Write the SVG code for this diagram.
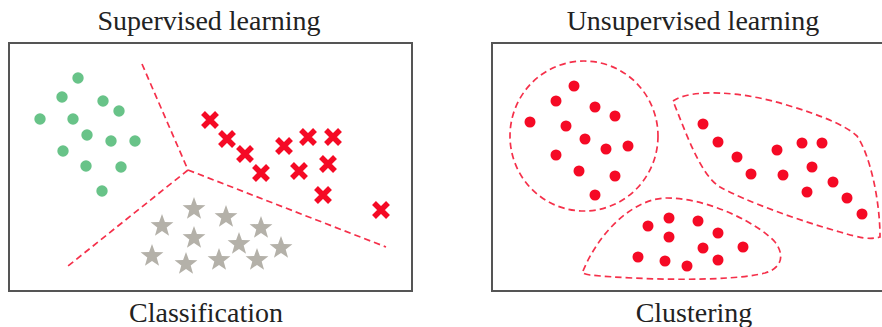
<svg xmlns="http://www.w3.org/2000/svg" xmlns:xlink="http://www.w3.org/1999/xlink" width="882" height="327" viewBox="0 0 882 327">
<defs>
<style>
.frame{fill:#ffffff;stroke:#555555;stroke-width:2}
.title{font-family:"Liberation Serif","Times New Roman",serif;font-size:28px;fill:#222222;text-anchor:middle}
.bound{fill:none;stroke:#f5304a;stroke-width:1.7;stroke-dasharray:6.5 4}
.g{fill:#68c388}
.r{fill:#f50a25}
.star{fill:#b4b1a9}
.x{stroke:#f50a25;stroke-width:5.5;fill:none}
</style>
<path id="star" class="star" d="M0,-12 L2.9,-4 L11.4,-3.7 L4.7,1.5 L7.05,9.7 L0,4.9 L-7.05,9.7 L-4.7,1.5 L-11.4,-3.7 L-2.9,-4 Z"/>
<path id="cross" class="x" d="M-7,-7 L7,7 M7,-7 L-7,7"/>
</defs>
<rect width="882" height="327" fill="#ffffff"/>

<g id="supervised">
<text class="title" x="209" y="30">Supervised learning</text>
<rect class="frame" x="9" y="43" width="403" height="248"/>
<g id="boundaries">
<path class="bound" d="M142,64 L188,170 M188,170 L68,266 M188,170 L386,247"/>
</g>
<g id="green-class">
<circle class="g" cx="78" cy="78" r="5.7"/>
<circle class="g" cx="62" cy="97" r="5.7"/>
<circle class="g" cx="103" cy="101" r="5.7"/>
<circle class="g" cx="119" cy="111" r="5.7"/>
<circle class="g" cx="40" cy="119" r="5.7"/>
<circle class="g" cx="73" cy="119" r="5.7"/>
<circle class="g" cx="87" cy="135" r="5.7"/>
<circle class="g" cx="111" cy="141" r="5.7"/>
<circle class="g" cx="135" cy="141" r="5.7"/>
<circle class="g" cx="63" cy="151" r="5.7"/>
<circle class="g" cx="86" cy="166" r="5.7"/>
<circle class="g" cx="121" cy="167" r="5.7"/>
<circle class="g" cx="102" cy="191" r="5.7"/>
</g>
<g id="red-class">
<use xlink:href="#cross" x="210" y="120"/>
<use xlink:href="#cross" x="227" y="139"/>
<use xlink:href="#cross" x="245" y="154"/>
<use xlink:href="#cross" x="261" y="173"/>
<use xlink:href="#cross" x="284" y="146"/>
<use xlink:href="#cross" x="308" y="137"/>
<use xlink:href="#cross" x="333" y="137"/>
<use xlink:href="#cross" x="328" y="164"/>
<use xlink:href="#cross" x="299" y="171"/>
<use xlink:href="#cross" x="323" y="195"/>
<use xlink:href="#cross" x="381" y="210"/>
</g>
<g id="gray-class">
<use xlink:href="#star" x="194" y="209"/>
<use xlink:href="#star" x="226" y="217"/>
<use xlink:href="#star" x="162" y="226"/>
<use xlink:href="#star" x="261" y="228"/>
<use xlink:href="#star" x="194" y="238"/>
<use xlink:href="#star" x="239" y="244"/>
<use xlink:href="#star" x="281" y="248"/>
<use xlink:href="#star" x="152" y="256"/>
<use xlink:href="#star" x="186" y="264"/>
<use xlink:href="#star" x="219" y="260"/>
<use xlink:href="#star" x="257" y="260"/>
</g>
<text class="title" x="206" y="322">Classification</text>
</g>

<g id="unsupervised">
<text class="title" x="693" y="30">Unsupervised learning</text>
<rect class="frame" x="492" y="43" width="400" height="248"/>
<g id="cluster-1">
<ellipse class="bound" cx="584" cy="136" rx="74" ry="75"/>
<circle class="r" cx="574" cy="86" r="5.5"/>
<circle class="r" cx="556" cy="101" r="5.5"/>
<circle class="r" cx="595" cy="107" r="5.5"/>
<circle class="r" cx="615" cy="116" r="5.5"/>
<circle class="r" cx="530" cy="122" r="5.5"/>
<circle class="r" cx="566" cy="126" r="5.5"/>
<circle class="r" cx="585" cy="139" r="5.5"/>
<circle class="r" cx="606" cy="149" r="5.5"/>
<circle class="r" cx="628" cy="146" r="5.5"/>
<circle class="r" cx="556" cy="155" r="5.5"/>
<circle class="r" cx="579" cy="171" r="5.5"/>
<circle class="r" cx="615" cy="176" r="5.5"/>
<circle class="r" cx="595" cy="195" r="5.5"/>
</g>
<g id="cluster-2">
<path class="bound" d="M673,101 C690,89 740,90 790,106 C820,115 845,125 857,136 C870,155 880,200 880,237 C870,240 860,238 840,232 C800,221 745,201 720,187 C700,175 685,130 673,101 Z"/>
<circle class="r" cx="703" cy="124" r="5.5"/>
<circle class="r" cx="718" cy="142" r="5.5"/>
<circle class="r" cx="737" cy="157" r="5.5"/>
<circle class="r" cx="751" cy="174" r="5.5"/>
<circle class="r" cx="777" cy="150" r="5.5"/>
<circle class="r" cx="783" cy="175" r="5.5"/>
<circle class="r" cx="802" cy="143" r="5.5"/>
<circle class="r" cx="822" cy="143" r="5.5"/>
<circle class="r" cx="812" cy="167" r="5.5"/>
<circle class="r" cx="833" cy="182" r="5.5"/>
<circle class="r" cx="807" cy="192" r="5.5"/>
<circle class="r" cx="847" cy="198" r="5.5"/>
<circle class="r" cx="862" cy="214" r="5.5"/>
</g>
<g id="cluster-3">
<path class="bound" d="M583,271 C600,230 635,198 667,198 C710,198 760,225 775,242 C785,255 782,268 765,273 C730,282 640,280 590,275 C584,274 582,273 583,271 Z"/>
<circle class="r" cx="648" cy="226" r="5.5"/>
<circle class="r" cx="669" cy="218" r="5.5"/>
<circle class="r" cx="698" cy="221" r="5.5"/>
<circle class="r" cx="669" cy="237" r="5.5"/>
<circle class="r" cx="718" cy="233" r="5.5"/>
<circle class="r" cx="743" cy="247" r="5.5"/>
<circle class="r" cx="703" cy="248" r="5.5"/>
<circle class="r" cx="638" cy="257" r="5.5"/>
<circle class="r" cx="665" cy="261" r="5.5"/>
<circle class="r" cx="687" cy="266" r="5.5"/>
<circle class="r" cx="718" cy="260" r="5.5"/>
</g>
<text class="title" x="694" y="322">Clustering</text>
</g>
</svg>
